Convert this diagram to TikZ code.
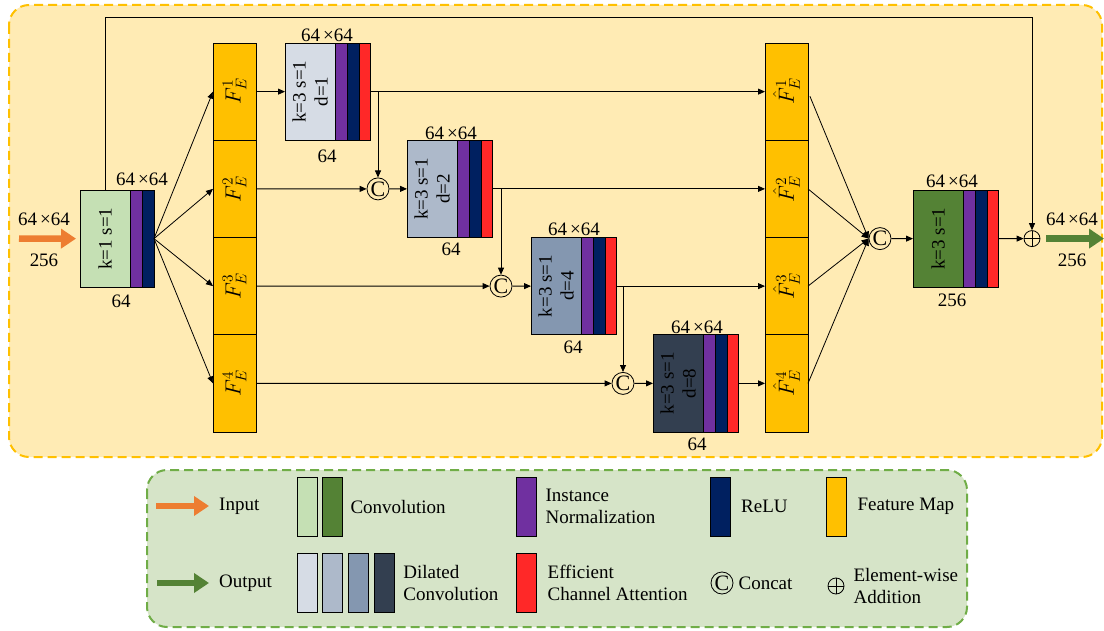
\RequirePackage{fix-cm}
\documentclass[tikz,border=0pt]{standalone}
\usepackage{fontspec}
\setmainfont{Liberation Serif}
\usepackage{amsmath}
\usepackage{tikz}
\usetikzlibrary{positioning,arrows.meta,calc}
\definecolor{cfondo}{HTML}{FFEBB4}
\definecolor{cborde}{HTML}{FFC000}
\definecolor{cley}{HTML}{D6E4C8}
\definecolor{cbordeley}{HTML}{70AD47}
\definecolor{cverdeclaro}{HTML}{C5E0B4}
\definecolor{cverde}{HTML}{548235}
\definecolor{cmorado}{HTML}{7030A0}
\definecolor{cmarino}{HTML}{002060}
\definecolor{crojo}{HTML}{FF2828}
\definecolor{cambar}{HTML}{FFC000}
\definecolor{cgris1}{HTML}{D6DCE5}
\definecolor{cgris2}{HTML}{ADB9CA}
\definecolor{cgris3}{HTML}{8497B0}
\definecolor{cgris4}{HTML}{333F50}
\definecolor{cnaranja}{HTML}{ED7D31}
\tikzset{
  capa/.style={rectangle, draw, line width=0.9pt, inner sep=0pt, outer sep=0pt,
    minimum height=97.25pt},
  conv/.style={capa, minimum width=50pt},
  norma/.style={capa, fill=cmorado, minimum width=12pt},
  relu/.style={capa, fill=cmarino, minimum width=12pt},
  eca/.style={capa, fill=crojo, minimum width=11pt},
  mapa/.style={capa, fill=cambar, minimum width=43pt},
  giro/.style={rotate=90, align=center, font=\fontsize{19}{22}\selectfont},
  girof/.style={rotate=90, font=\fontsize{22}{24}\selectfont},
  etq/.style={font=\fontsize{19}{22}\selectfont, inner sep=0pt},
  flecha/.style={-{Triangle[length=7pt,width=6pt]}, line width=0.8pt},
  concat/.style={circle, draw, line width=0.8pt, minimum size=22pt, inner sep=0pt,
    font=\fontsize{22}{22}\selectfont},
  suma/.style={circle, draw, line width=0.8pt, minimum size=16pt, inner sep=0pt,
    path picture={\draw[line width=0.8pt]
      (path picture bounding box.north) -- (path picture bounding box.south)
      (path picture bounding box.west) -- (path picture bounding box.east);}},
  gruesa/.style={line width=6.5pt, -{Triangle[length=15pt,width=19pt]}},
  ley/.style={font=\fontsize{19}{22}\selectfont, align=left, anchor=west, inner sep=0pt},
  muestra/.style={rectangle, draw, line width=0.9pt, minimum width=20pt,
    minimum height=59pt, inner sep=0pt},
  marco/.style={line width=2pt, dash pattern=on 9pt off 5pt, rounded corners=20pt},
}

\begin{document}
\begin{tikzpicture}[x=1pt, y=-1pt]
  \useasboundingbox (0,0) rectangle (1104,631);
  \draw[marco, cborde, fill=cfondo] (9,5) rectangle (1102,457);
  \draw[marco, cbordeley, fill=cley] (147,470) rectangle (967,627);

  % bloque de entrada
  \node[conv, fill=cverdeclaro, anchor=north west] (c0) at (80,190) {};
  \node[norma, right=0pt of c0] (c0n) {};
  \node[relu, right=0pt of c0n] (c0r) {};
  \node[giro] (c0t) at (c0) {k=1 s=1};
  \node[etq] (c0a) at (142,179) {64\,×64};
  \node[etq] (c0b) at (121,301) {64};
  \coordinate (ent) at (19,238.6);
  \draw[gruesa, cnaranja, shorten >=4pt] (ent) -- (c0.west);
  \node[etq] (enta) at (44,219) {64\,×64};
  \node[etq] (entb) at (44,260) {256};

  % mapas de caracteristicas
  \node[mapa, anchor=north west] (fe1) at (213,43) {};
  \node[mapa, below=0pt of fe1] (fe2) {};
  \node[mapa, below=0pt of fe2] (fe3) {};
  \node[mapa, below=0pt of fe3] (fe4) {};
  \node[girof] (fet1) at (fe1) {$F_E^1$};
  \node[girof] (fet2) at (fe2) {$F_E^2$};
  \node[girof] (fet3) at (fe3) {$F_E^3$};
  \node[girof] (fet4) at (fe4) {$F_E^4$};
  \node[mapa, anchor=north west] (h1) at (765,43) {};
  \node[mapa, below=0pt of h1] (h2) {};
  \node[mapa, below=0pt of h2] (h3) {};
  \node[mapa, below=0pt of h3] (h4) {};
  \node[girof] (ht1) at (h1) {$\hat{F}_E^1$};
  \node[girof] (ht2) at (h2) {$\hat{F}_E^2$};
  \node[girof] (ht3) at (h3) {$\hat{F}_E^3$};
  \node[girof] (ht4) at (h4) {$\hat{F}_E^4$};

  % convoluciones dilatadas
  \node[conv, fill=cgris1, anchor=north west] (d1) at (285,43) {};
  \node[norma, right=0pt of d1] (d1n) {};
  \node[relu, right=0pt of d1n] (d1r) {};
  \node[eca, right=0pt of d1r] (d1e) {};
  \node[giro] (d1t) at (d1) {k=3 s=1\\d=1};
  \node[etq] (d1a) at (327,35.5) {64\,×64};
  \node[etq] (d1b) at (327,156) {64};

  \node[conv, fill=cgris2, anchor=north west] (d2) at (407,140.25) {};
  \node[norma, right=0pt of d2] (d2n) {};
  \node[relu, right=0pt of d2n] (d2r) {};
  \node[eca, right=0pt of d2r] (d2e) {};
  \node[giro] (d2t) at (d2) {k=3 s=1\\d=2};
  \node[etq] (d2a) at (451,133) {64\,×64};
  \node[etq] (d2b) at (451,249) {64};

  \node[conv, fill=cgris3, anchor=north west] (d3) at (531,237.5) {};
  \node[norma, right=0pt of d3] (d3n) {};
  \node[relu, right=0pt of d3n] (d3r) {};
  \node[eca, right=0pt of d3r] (d3e) {};
  \node[giro] (d3t) at (d3) {k=3 s=1\\d=4};
  \node[etq] (d3a) at (574,229) {64\,×64};
  \node[etq] (d3b) at (573,347.5) {64};

  \node[conv, fill=cgris4, anchor=north west] (d4) at (653,334.75) {};
  \node[norma, right=0pt of d4] (d4n) {};
  \node[relu, right=0pt of d4n] (d4r) {};
  \node[eca, right=0pt of d4r] (d4e) {};
  \node[giro] (d4t) at (d4) {k=3 s=1\\d=8};
  \node[etq] (d4a) at (697,327.5) {64\,×64};
  \node[etq] (d4b) at (697,444) {64};

  % concatenaciones
  \node[concat] (cat1) at (378,188.9) {C};
  \node[concat] (cat2) at (501,286.1) {C};
  \node[concat] (cat3) at (623,383.4) {C};
  \node[concat] (cat4) at (880,238.6) {C};

  % bloque de salida
  \node[conv, fill=cverde, anchor=north west] (f) at (913,190) {};
  \node[norma, right=0pt of f] (fn) {};
  \node[relu, right=0pt of fn] (fr) {};
  \node[eca, right=0pt of fr] (fe) {};
  \node[giro] (ft) at (f) {k=3 s=1};
  \node[etq] (fa) at (952,181.5) {64\,×64};
  \node[etq] (fb) at (952,300) {256};
  \node[suma] (add) at (1032,238.6) {};
  \coordinate (sal) at (1104,238.6);
  \draw[gruesa, cverde, shorten <=6pt] (add.east) -- (sal);
  \node[etq] (sala) at (1072,219) {64\,×64};
  \node[etq] (salb) at (1072,260) {256};

  % conexiones
  \draw[flecha] (c0r.east) -- (fe1.west);
  \draw[flecha] (c0r.east) -- (fe2.west);
  \draw[flecha] (c0r.east) -- (fe3.west);
  \draw[flecha] (c0r.east) -- (fe4.west);
  \draw[flecha] (fe1.east) -- (d1.west);
  \draw[flecha] (d1e.east) -- (h1.west);
  \draw[flecha] (cat1 |- d1e.east) -- (cat1.north);
  \draw[flecha] (fe2.east) -- (cat1.west);
  \draw[flecha] (cat1.east) -- (d2.west);
  \draw[flecha] (d2e.east) -- (h2.west);
  \draw[flecha] (cat2 |- d2e.east) -- (cat2.north);
  \draw[flecha] (fe3.east) -- (cat2.west);
  \draw[flecha] (cat2.east) -- (d3.west);
  \draw[flecha] (d3e.east) -- (h3.west);
  \draw[flecha] (cat3 |- d3e.east) -- (cat3.north);
  \draw[flecha] (fe4.east) -- (cat3.west);
  \draw[flecha] (cat3.east) -- (d4.west);
  \draw[flecha] (d4e.east) -- (h4.west);
  \draw[flecha, shorten <=5pt] (h1.east) -- (cat4.west);
  \draw[flecha] (h2.east) -- (cat4.west);
  \draw[flecha] (h3.east) -- (cat4.west);
  \draw[flecha] (h4.east) -- (cat4.west);
  \draw[flecha] (cat4.east) -- (f.west);
  \draw[flecha] (fe.east) -- (add.west);
  \coordinate (salto) at (0,17);
  \draw[flecha] (c0.north) |- (salto -| add) -- (add.north);

  % leyenda
  \coordinate (lent) at (156,506);
  \node[ley] (tent) at (219,506) {Input};
  \draw[gruesa, cnaranja, shorten >=10pt] (lent) -- (tent.west);
  \coordinate (lsal) at (157,583);
  \node[ley] (tsal) at (219,583) {Output};
  \draw[gruesa, cverde, shorten >=10pt] (lsal) -- (tsal.west);
  \node[muestra, fill=cverdeclaro] (mc1) at (307,506.5) {};
  \node[muestra, fill=cverde, right=5pt of mc1] (mc2) {};
  \node[ley, right=7pt of mc2] (tconv) {Convolution};
  \node[muestra, fill=cgris1] (md1) at (307,583) {};
  \node[muestra, fill=cgris2, right=5pt of md1] (md2) {};
  \node[muestra, fill=cgris3, right=5pt of md2] (md3) {};
  \node[muestra, fill=cgris4, right=5pt of md3] (md4) {};
  \node[ley, right=8pt of md4] (tdil) {Dilated\\Convolution};
  \node[muestra, fill=cmorado] (mn) at (526,506.5) {};
  \node[ley, right=9pt of mn] (tnorm) {Instance\\Normalization};
  \node[muestra, fill=crojo] (me) at (526,583) {};
  \node[ley, right=11pt of me] (teca) {Efficient\\Channel Attention};
  \node[muestra, fill=cmarino] (mr) at (720.5,506.5) {};
  \node[ley, right=10pt of mr] (trelu) {ReLU};
  \node[muestra, fill=cambar] (mm) at (836,506.5) {};
  \node[ley, right=11pt of mm] (tmapa) {Feature Map};
  \node[concat] (lcat) at (722,583) {C};
  \node[ley, right=5pt of lcat] (tcat) {Concat};
  \node[suma] (ladd) at (836,586) {};
  \node[ley, right=9pt of ladd] (tadd) {Element-wise\\Addition};
\end{tikzpicture}
\end{document}
